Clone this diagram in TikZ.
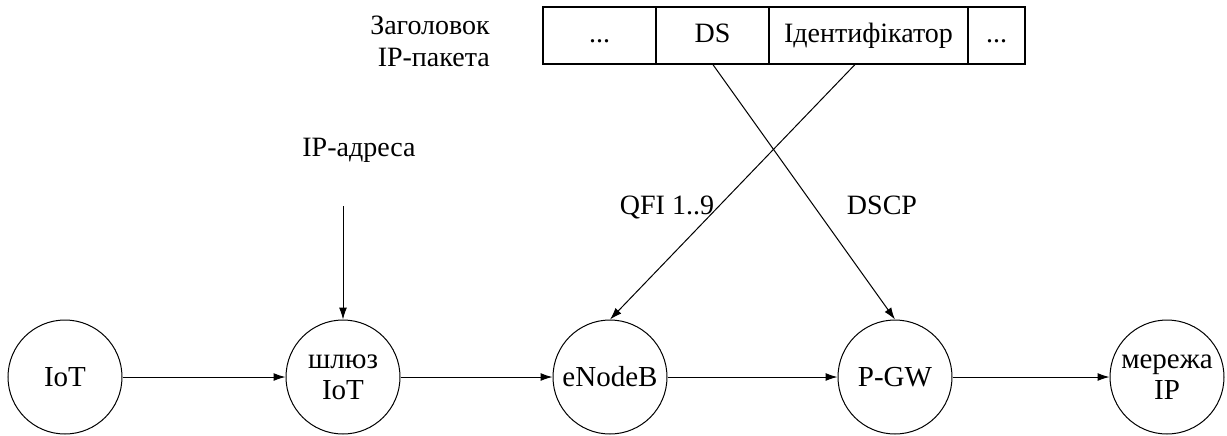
\documentclass[tikz,border=0pt]{standalone}
\usepackage{fontspec}
\setmainfont{Liberation Serif}
\usetikzlibrary{arrows.meta,positioning}

\begin{document}
\begin{tikzpicture}[
    x=0.5pt, y=-0.5pt,
    >={Latex[length=6pt,width=4pt]},
    station/.style={
      circle, draw=black, line width=0.5pt, minimum size=57pt,
      inner sep=0pt, align=center,
      font=\fontsize{14.5}{15.5}\selectfont
    },
    field/.style={
      rectangle, draw=black, line width=0.6pt, minimum height=28.5pt,
      inner sep=0pt, outer sep=0pt, text height=10pt, text depth=3pt,
      font=\fontsize{14}{16}\selectfont
    },
    link/.style={->, line width=0.5pt, black},
    lbl/.style={font=\fontsize{14}{16}\selectfont}
  ]
  \useasboundingbox (0,0) rectangle (1227,435);

  % packet header
  \node[field, minimum width=56.5pt] (dots1) at (599.5,35.5) {...};
  \node[field, minimum width=56.5pt, right=0pt of dots1] (ds) {DS};
  \node[field, minimum width=99.5pt, right=0pt of ds] (ident) {Ідентифікатор};
  \node[field, minimum width=28.5pt, right=0pt of ident] (dots2) {...};
  \node[lbl, align=right] (hdr) at (430,41) {Заголовок\\IP-пакета};

  % network elements
  \node[station] (iot) at (65,377) {IoT};
  \node[station] (gw) at (343,377) {шлюз\\IoT};
  \node[station] (enb) at (610,377) {eNodeB};
  \node[station] (pgw) at (895,377) {P-GW};
  \node[station] (net) at (1167,377) {мережа\\IP};

  \draw[link] (iot) -- (gw);
  \draw[link] (gw) -- (enb);
  \draw[link] (enb) -- (pgw);
  \draw[link] (pgw) -- (net);

  \node[lbl] (addr) at (359,150) {IP-адреса};
  \coordinate (addrin) at (343,206);
  \draw[link] (addrin) -- (gw.north);

  \draw[link] ([xshift=-6.5pt]ident.south) -- (enb.north);
  \draw[link] (ds.south) -- (pgw.north);
  \node[lbl] (qfi) at (667,207) {QFI 1..9};
  \node[lbl] (dscp) at (882,205) {DSCP};
\end{tikzpicture}
\end{document}
